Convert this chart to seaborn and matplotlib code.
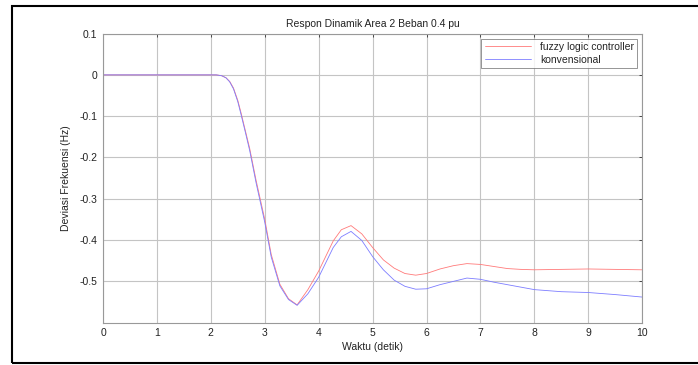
import matplotlib
matplotlib.use("Agg")
import matplotlib.pyplot as plt
import seaborn as sns
import pandas as pd
from matplotlib.patches import Rectangle

# ---- data ----
time = [0, 1, 2, 2.1, 2.2, 2.28, 2.35, 2.42, 2.5, 2.56, 2.64, 2.72, 2.84, 3.0,
        3.12, 3.28, 3.44, 3.6, 3.8, 4.0, 4.27, 4.42, 4.6, 4.8, 5.0, 5.2, 5.4,
        5.6, 5.8, 6.0, 6.25, 6.5, 6.75, 7.0, 7.25, 7.5, 7.75, 8.0, 8.5, 9.0,
        9.5, 10.0]
fuzzy = [0, 0, 0, 0, -0.002, -0.007, -0.016, -0.032, -0.062, -0.092, -0.135,
         -0.178, -0.256, -0.350, -0.435, -0.507, -0.542, -0.557, -0.52, -0.475,
         -0.402, -0.375, -0.365, -0.385, -0.418, -0.448, -0.468, -0.481, -0.485,
         -0.481, -0.470, -0.462, -0.457, -0.459, -0.464, -0.469, -0.471, -0.472,
         -0.471, -0.470, -0.471, -0.472]
konv = [0, 0, 0, 0, -0.002, -0.007, -0.017, -0.034, -0.065, -0.096, -0.139,
        -0.183, -0.262, -0.357, -0.441, -0.511, -0.544, -0.558, -0.53, -0.49,
        -0.418, -0.392, -0.379, -0.401, -0.440, -0.472, -0.497, -0.512, -0.519,
        -0.518, -0.508, -0.500, -0.492, -0.495, -0.502, -0.508, -0.514, -0.520,
        -0.525, -0.527, -0.532, -0.538]
series_names = ["fuzzy logic controller", "konvensional"]
xticks = list(range(0, 11))
yticks = [0.1, 0, -0.1, -0.2, -0.3, -0.4, -0.5]
ytick_labels = ["0.1", "0", "-0.1", "-0.2", "-0.3", "-0.4", "-0.5"]

df = pd.DataFrame({
    "t": time * 2,
    "y": fuzzy + konv,
    "series": [series_names[0]] * len(time) + [series_names[1]] * len(time),
})

sns.set_theme(style="white")
plt.rcParams["font.family"] = ["Liberation Sans", "DejaVu Sans"]

fig = plt.figure(figsize=(6.98, 3.65), dpi=100)
ax = fig.add_axes([0.1476, 0.116, 0.7724, 0.792])

sns.lineplot(data=df, x="t", y="y", hue="series",
             palette={series_names[0]: "#ff7a7a", series_names[1]: "#7d7dff"},
             linewidth=0.6, ax=ax, legend=True)

ax.set_xlim(0, 10)
ax.set_ylim(-0.6, 0.1)
ax.set_xticks(xticks)
ax.set_xticklabels([str(v) for v in xticks])
ax.set_yticks(yticks)
ax.set_yticklabels(ytick_labels)
ax.grid(True, color="#c4c4c4", linewidth=0.8, linestyle="-")
ax.tick_params(direction="in", length=2, width=0.6, colors="#333333",
               labelsize=7.5, top=True, right=True, labelcolor="#222222", pad=4)
for s in ax.spines.values():
    s.set_color("#999999")
    s.set_linewidth(0.8)

ax.set_title("Respon Dinamik Area 2 Beban 0.4 pu", fontsize=7.5, color="#222222", pad=5)
ax.set_xlabel("Waktu (detik)", fontsize=7.5, color="#222222", labelpad=3)
ax.set_ylabel("Deviasi Frekuensi (Hz)", fontsize=7.5, color="#222222", labelpad=6)

leg = ax.legend(loc="upper right", fontsize=7.5, frameon=True, fancybox=False,
                edgecolor="#666666", borderaxespad=0.5, handlelength=4.5,
                borderpad=0.3, labelspacing=0.3)
leg.get_frame().set_linewidth(0.6)
leg.set_title(None)

fig.patches.append(Rectangle((12 / 698, 2 / 365), 1.0, 1 - 8 / 365,
                             transform=fig.transFigure, fill=False,
                             edgecolor="black", linewidth=1.5))

fig.savefig("out.png", dpi=100)
